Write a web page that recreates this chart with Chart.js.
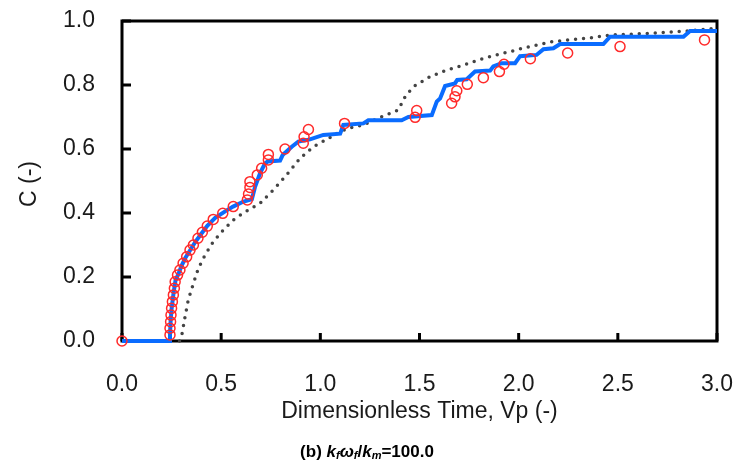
<!DOCTYPE html>
<html>
<head>
<meta charset="utf-8">
<script src="https://cdn.jsdelivr.net/npm/chart.js@4/dist/chart.umd.min.js"></script>
<style>body{margin:0;background:#fff}</style>
</head>
<body>
<canvas id="btcChart" width="741" height="470"></canvas>
<script>
// observed concentration (red circles)
var obsTime = [0.0, 0.242, 0.242, 0.245, 0.247, 0.25, 0.254, 0.259, 0.264, 0.268, 0.28, 0.292,
  0.308, 0.326, 0.343, 0.36, 0.383, 0.405, 0.43, 0.46, 0.508, 0.561, 0.632, 0.638, 0.645, 0.645,
  0.682, 0.704, 0.738, 0.738, 0.822, 0.914, 0.918, 0.94, 1.122, 1.478, 1.486, 1.662, 1.679, 1.688,
  1.741, 1.822, 1.903, 1.926, 2.059, 2.247, 2.511, 2.937];
var obsConc = [0.0, 0.019, 0.040, 0.060, 0.081, 0.102, 0.123, 0.144, 0.165, 0.185, 0.206, 0.222,
  0.243, 0.263, 0.284, 0.300, 0.321, 0.340, 0.359, 0.380, 0.399, 0.420, 0.441, 0.459, 0.480, 0.498,
  0.519, 0.540, 0.566, 0.583, 0.600, 0.618, 0.638, 0.661, 0.680, 0.699, 0.720, 0.743, 0.763, 0.782,
  0.802, 0.823, 0.842, 0.865, 0.882, 0.900, 0.920, 0.941];

// simulated (blue step line)
var simTime = [0, 0.24, 0.242, 0.245, 0.25, 0.26, 0.27, 0.285, 0.30, 0.32, 0.345, 0.37, 0.40, 0.43,
  0.47, 0.52, 0.56, 0.61, 0.655, 0.67, 0.696, 0.721, 0.735, 0.797, 0.81, 0.856, 0.889, 0.948, 1.015,
  1.10, 1.116, 1.217, 1.242, 1.41, 1.444, 1.562, 1.587, 1.604, 1.629, 1.679, 1.69, 1.738, 1.78,
  1.856, 1.872, 1.914, 1.982, 2.007, 2.09, 2.125, 2.175, 2.209, 2.427, 2.461, 2.831, 2.864, 3.0];
var simConc = [0, 0, 0.02, 0.06, 0.10, 0.15, 0.19, 0.21, 0.235, 0.26, 0.285, 0.31, 0.335, 0.36,
  0.385, 0.405, 0.42, 0.435, 0.443, 0.48, 0.524, 0.555, 0.561, 0.564, 0.581, 0.607, 0.623, 0.63, 0.644,
  0.648, 0.675, 0.68, 0.69, 0.69, 0.70, 0.706, 0.748, 0.758, 0.797, 0.805, 0.816, 0.818, 0.842,
  0.845, 0.858, 0.868, 0.868, 0.89, 0.894, 0.912, 0.915, 0.928, 0.928, 0.951, 0.951, 0.969, 0.969];

// analytical (gray dotted)
var anaTime = [0.29, 0.30, 0.318, 0.334, 0.36, 0.385, 0.419, 0.46, 0.511, 0.561, 0.612, 0.696, 0.763,
  0.83, 0.898, 0.965, 1.032, 1.099, 1.141, 1.217, 1.301, 1.393, 1.427, 1.469, 1.553, 1.637, 1.721,
  1.805, 1.89, 1.973, 2.04, 2.175, 2.343, 2.461, 2.679, 2.847, 3.0];
var anaConc = [0, 0.013, 0.076, 0.128, 0.18, 0.227, 0.269, 0.31, 0.347, 0.378, 0.40, 0.43, 0.472,
  0.519, 0.571, 0.607, 0.63, 0.654, 0.665, 0.675, 0.699, 0.722, 0.763, 0.795, 0.826, 0.847, 0.862,
  0.88, 0.894, 0.907, 0.918, 0.936, 0.946, 0.956, 0.962, 0.969, 0.977];

var xTicks = [0, 0.5, 1.0, 1.5, 2.0, 2.5, 3.0];
var yTicks = [0, 0.2, 0.4, 0.6, 0.8, 1.0];

function pts(xs, ys) {
  return xs.map(function (x, i) { return {x: x, y: ys[i]}; });
}

var FONT = '"Liberation Sans", Arial, sans-serif';

// frame, inward ticks, axis titles and caption
var framePlugin = {
  id: 'frame',
  beforeDatasetsDraw: function (chart) {
    var ctx = chart.ctx, a = chart.chartArea;
    var xs = chart.scales.x, ys = chart.scales.y;
    ctx.save();
    ctx.strokeStyle = '#000';
    ctx.lineWidth = 3;
    ctx.strokeRect(a.left, a.top, a.right - a.left, a.bottom - a.top);
    ctx.beginPath();
    xTicks.forEach(function (v) {
      var px = xs.getPixelForValue(v);
      ctx.moveTo(px, a.bottom);
      ctx.lineTo(px, a.bottom - 8);
    });
    yTicks.forEach(function (v) {
      var py = ys.getPixelForValue(v);
      ctx.moveTo(a.left, py);
      ctx.lineTo(a.left + 9, py);
    });
    ctx.stroke();
    ctx.restore();
  },
  afterDraw: function (chart) {
    var ctx = chart.ctx, a = chart.chartArea;
    ctx.save();
    ctx.fillStyle = '#1a1a1a';
    ctx.textAlign = 'center';
    ctx.textBaseline = 'middle';
    ctx.font = '23px ' + FONT;
    ctx.fillText('Dimensionless Time, Vp (-)', (a.left + a.right) / 2, 412);
    ctx.save();
    ctx.translate(30, (a.top + a.bottom) / 2 + 3);
    ctx.rotate(-Math.PI / 2);
    ctx.fillText('C (-)', 0, 0);
    ctx.restore();

    // caption with subscripts
    var big = 'bold 17px ' + FONT, bigI = 'italic bold 17px ' + FONT, sub = 'italic bold 11px ' + FONT;
    var runs = [['(b) ', big, 0], ['k', bigI, 0], ['f', sub, 4], ['ω', bigI, 0], ['f', sub, 4],
      ['/', big, 0], ['k', bigI, 0], ['m', sub, 4], ['=100.0', big, 0]];
    var w = 0;
    runs.forEach(function (r) { ctx.font = r[1]; w += ctx.measureText(r[0]).width; });
    var x = 367 - w / 2;
    ctx.textAlign = 'left';
    ctx.fillStyle = '#000';
    runs.forEach(function (r) {
      ctx.font = r[1];
      ctx.fillText(r[0], x, 452 + r[2]);
      x += ctx.measureText(r[0]).width;
    });
    ctx.restore();
  }
};

var ctx = document.getElementById('btcChart');
var btcChart = new Chart(ctx, {
  type: 'scatter',
  data: {
    datasets: [
      {
        label: 'Observed',
        data: pts(obsTime, obsConc),
        showLine: false,
        pointStyle: 'circle',
        pointRadius: 5,
        pointBorderWidth: 1.5,
        pointBorderColor: '#ff2a2a',
        pointBackgroundColor: 'rgba(0,0,0,0)',
        clip: false,
        order: 0
      },
      {
        label: 'Simulated',
        data: pts(simTime, simConc),
        showLine: true,
        borderColor: '#0a6cff',
        borderWidth: 4,
        pointRadius: 0,
        tension: 0,
        clip: false,
        order: 1
      },
      {
        label: 'Analytical',
        data: pts(anaTime, anaConc),
        showLine: true,
        borderColor: '#444444',
        borderWidth: 3.5,
        borderDash: [0, 8],
        borderCapStyle: 'round',
        pointRadius: 0,
        tension: 0,
        clip: false,
        order: 2
      }
    ]
  },
  options: {
    responsive: false,
    animation: false,
    layout: {padding: {top: 21, right: 24, bottom: 0, left: 0}},
    plugins: {legend: {display: false}, tooltip: {enabled: false}},
    scales: {
      x: {
        type: 'linear',
        min: 0, max: 3,
        afterBuildTicks: function (s) { s.ticks = xTicks.map(function (v) { return {value: v}; }); },
        afterFit: function (s) {
          s.height = 129;
          s.paddingLeft = 0; s.paddingRight = 0;
        },
        grid: {display: false, drawTicks: false},
        border: {display: false},
        ticks: {
          padding: 30,
          color: '#1a1a1a',
          font: {family: FONT, size: 23},
          maxRotation: 0,
          callback: function (v) { return Number(v).toFixed(1); }
        }
      },
      y: {
        type: 'linear',
        min: 0, max: 1,
        afterBuildTicks: function (s) { s.ticks = yTicks.map(function (v) { return {value: v}; }); },
        afterFit: function (s) {
          s.width = 122;
          s.paddingTop = 0; s.paddingBottom = 0;
        },
        grid: {display: false, drawTicks: false},
        border: {display: false},
        ticks: {
          padding: 27,
          color: '#1a1a1a',
          font: {family: FONT, size: 23},
          callback: function (v) { return Number(v).toFixed(1); }
        }
      }
    }
  },
  plugins: [framePlugin]
});
</script>
</body>
</html>
